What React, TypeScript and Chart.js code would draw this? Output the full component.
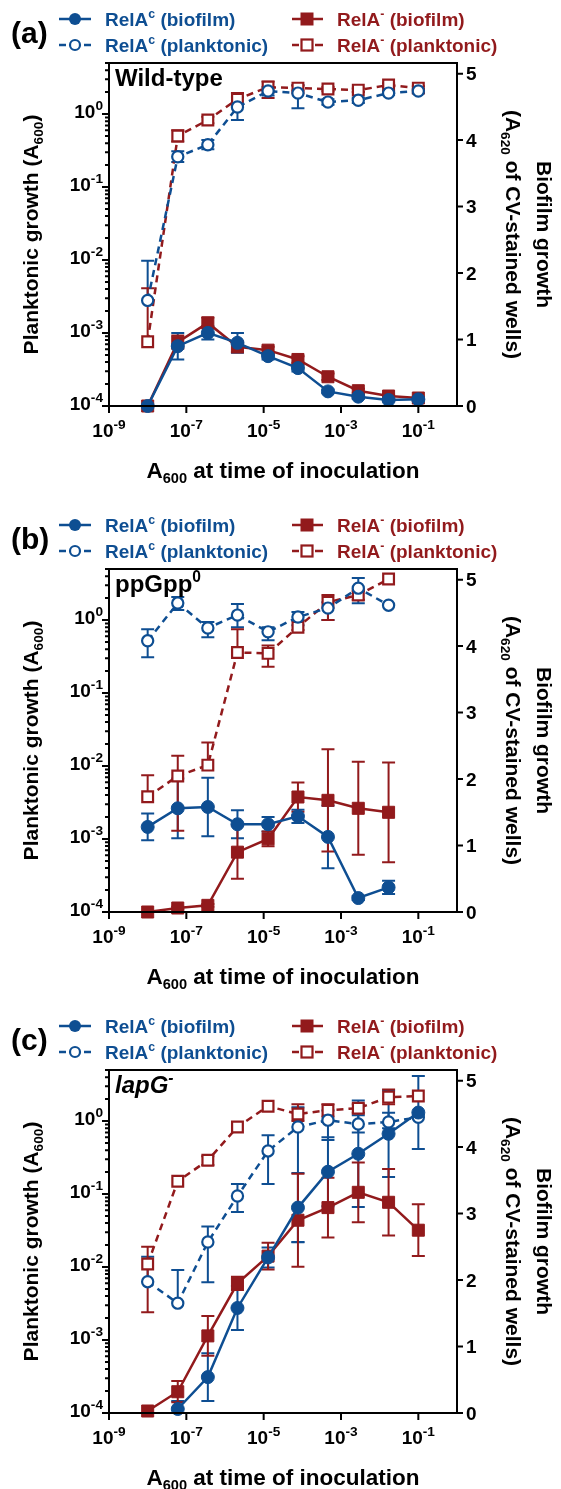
import React, { useEffect, useRef } from 'react';
import { Chart, registerables } from 'chart.js';

Chart.register(...registerables);

const BLUE = '#0E4E92';
const RED = '#921A1C';
const FAMILY = '"Liberation Sans", Arimo, Arial, sans-serif';

// ---------- data ----------
// A600 at time of inoculation (6-fold dilution series)
const inoc10 = [1.0e-8, 6.0e-8, 3.6e-7, 2.1e-6, 1.3e-5, 7.7e-5, 4.6e-4, 2.8e-3, 1.7e-2, 1.0e-1];
const inoc9 = [1.0e-8, 6.0e-8, 3.6e-7, 2.1e-6, 1.3e-5, 7.7e-5, 4.6e-4, 2.8e-3, 1.7e-2];

const xTickExps = [-9, -7, -5, -3, -1];
const yLeftExps = [-4, -3, -2, -1, 0];
const yRightTicks = [0, 1, 2, 3, 4, 5];

// (a) Wild-type
const aBioBlue = [0.0, 0.9, 1.1, 0.95, 0.75, 0.57, 0.22, 0.14, 0.09, 0.1];
const aBioBlueSD = [0, 0.2, 0.1, 0.15, 0.05, 0.05, 0.03, 0.03, 0.02, 0.02];
const aBioRed = [0.0, 0.96, 1.25, 0.89, 0.84, 0.7, 0.44, 0.23, 0.15, 0.12];
const aBioRedSD = [0, 0.1, 0.08, 0.08, 0.05, 0.05, 0.05, 0.03, 0.02, 0.02];
const aPlkBlue = [2.8e-3, 0.26, 0.38, 1.25, 2.07, 1.94, 1.46, 1.55, 1.94, 2.07];
const aPlkBlueHi = [9.8e-3, 0.31, 0.44, 1.7, 2.35, 2.5, 1.6, 1.68, 2.05, 2.2];
const aPlkBlueLo = [null, 0.22, 0.33, 0.83, 1.8, 1.2, 1.34, 1.42, 1.84, 1.95];
const aPlkRed = [7.6e-4, 0.5, 0.83, 1.6, 2.34, 2.27, 2.2, 2.13, 2.5, 2.27];
const aPlkRedHi = [4.1e-3, 0.6, 0.92, 1.95, 2.8, 2.45, 2.35, 2.25, 2.65, 2.4];
const aPlkRedLo = [null, 0.42, 0.75, 1.3, 1.66, 2.1, 2.05, 2.0, 2.35, 2.15];

// (b) ppGpp0
const bBioBlue = [1.28, 1.56, 1.58, 1.32, 1.32, 1.44, 1.13, 0.21, 0.37];
const bBioBlueSD = [0.2, 0.45, 0.44, 0.21, 0.11, 0.1, 0.47, 0.03, 0.1];
const bBioRed = [0.0, 0.06, 0.1, 0.9, 1.1, 1.73, 1.68, 1.56, 1.5];
const bBioRedSD = [0, 0.02, 0.02, 0.4, 0.11, 0.22, 0.77, 0.7, 0.75];
const bPlkBlue = [0.52, 1.71, 0.78, 1.17, 0.69, 1.1, 1.46, 2.74, 1.6];
const bPlkBlueHi = [0.75, 2.07, 0.94, 1.66, 0.8, 1.29, 1.76, 3.76, null];
const bPlkBlueLo = [0.31, 1.37, 0.58, 0.8, 0.53, 0.85, 1.0, 1.7, null];
const bPlkRed = [3.8e-3, 7.3e-3, 0.0103, 0.36, 0.35, 0.8, 1.76, 2.2, 3.65];
const bPlkRedHi = [7.5e-3, 0.0138, 0.021, 0.75, 0.45, 1.0, 2.2, 2.5, null];
const bPlkRedLo = [null, 1.3e-3, null, null, 0.23, 0.73, 1.0, 1.9, null];

// (c) lapG-
const cBioBlue = [null, 0.06, 0.54, 1.58, 2.34, 3.09, 3.63, 3.9, 4.2, 4.52];
const cBioBlueSD = [0, 0.12, 0.36, 0.33, 0.15, 0.52, 0.52, 0.8, 0.65, 0.55];
const cBioRed = [0.03, 0.32, 1.16, 1.95, 2.36, 2.9, 3.09, 3.32, 3.17, 2.75];
const cBioRedSD = [0, 0.16, 0.3, 0.1, 0.2, 0.7, 0.45, 0.45, 0.5, 0.39];
const cPlkBlue = [6.3e-3, 3.2e-3, 0.022, 0.094, 0.39, 0.83, 1.03, 0.91, 0.97, 1.13];
const cPlkBlueHi = [0.0138, 9.1e-3, 0.036, 0.137, 0.64, 1.55, 1.4, 1.2, 1.3, null];
const cPlkBlueLo = [null, null, 6.2e-3, 0.057, 0.137, 0.022, 0.55, 0.7, 0.8, null];
const cPlkRed = [0.011, 0.15, 0.29, 0.83, 1.6, 1.25, 1.41, 1.5, 2.13, 2.2];
const cPlkRedHi = [0.019, null, 0.33, null, null, 1.7, 1.7, 1.7, 2.7, null];
const cPlkRedLo = [2.4e-3, null, 0.25, null, null, 1.0, 1.15, 1.3, 1.7, null];

// ---------- layout ----------
const W = 561;
const PLOT_LEFT = 109;
const PLOT_RIGHT = 457;
const PLOT_TOP = 63;
const PLOT_BOTTOM = 406;
const Y_MAX = Math.pow(10, 0.7);
const Y1_MAX = 5.16;

type Run = { t: string; k?: 'sup' | 'sub' };

function fontOf(size: number, italic = false) {
  return `${italic ? 'italic ' : ''}bold ${size}px ${FAMILY}`;
}
function runsWidth(ctx: CanvasRenderingContext2D, runs: Run[], size: number, italic = false, ratio = 0.65) {
  let w = 0;
  for (const r of runs) {
    ctx.font = fontOf(r.k ? size * ratio : size, italic);
    w += ctx.measureText(r.t).width;
  }
  return w;
}
function drawRuns(
  ctx: CanvasRenderingContext2D,
  runs: Run[],
  x: number,
  baseline: number,
  size: number,
  color: string,
  align: 'left' | 'center' | 'right',
  italic = false,
  ratio = 0.65
) {
  const w = runsWidth(ctx, runs, size, italic, ratio);
  let cx = align === 'left' ? x : align === 'center' ? x - w / 2 : x - w;
  ctx.fillStyle = color;
  ctx.textAlign = 'left';
  ctx.textBaseline = 'alphabetic';
  for (const r of runs) {
    const s = r.k ? size * ratio : size;
    ctx.font = fontOf(s, italic);
    const dy = r.k === 'sup' ? -size * 0.42 : r.k === 'sub' ? size * 0.24 : 0;
    ctx.fillText(r.t, cx, baseline + dy);
    cx += ctx.measureText(r.t).width;
  }
}

function buildLinear(xs: number[], ys: (number | null)[], sd: number[]) {
  return {
    data: xs.map((x, i) => ({ x, y: ys[i] })),
    lo: ys.map((v, i) => (v == null || !sd[i] ? null : Math.max(0, v - sd[i]))),
    hi: ys.map((v, i) => (v == null || !sd[i] ? null : v + sd[i])),
  };
}
function buildLog(xs: number[], ys: number[], lo: (number | null)[], hi: (number | null)[]) {
  return { data: xs.map((x, i) => ({ x, y: ys[i] })), lo, hi };
}

function dataset(
  label: string,
  built: { data: any[]; lo: any[]; hi: any[] },
  axis: string,
  color: string,
  filled: boolean,
  shape: 'circle' | 'rect'
) {
  const dashed = !filled;
  return {
    label,
    data: built.data,
    errLo: built.lo,
    errHi: built.hi,
    yAxisID: axis,
    borderColor: color,
    backgroundColor: color,
    borderWidth: 2.5,
    borderDash: dashed ? [7, 5] : [],
    pointStyle: shape,
    pointRadius: shape === 'rect' ? (filled ? 8.5 : 7.6) : filled ? 6.5 : 5.6,
    pointBackgroundColor: filled ? color : '#ffffff',
    pointBorderColor: color,
    pointBorderWidth: filled ? 1 : 2.2,
    tension: 0,
    clip: false,
    spanGaps: false,
  };
}

type PanelCfg = {
  label: string;
  tag: Run[];
  italicTag: boolean;
  top: number;
  height: number;
  datasets: any[];
};

const PANELS: PanelCfg[] = [
  {
    label: '(a)',
    tag: [{ t: 'Wild-type' }],
    italicTag: false,
    top: 0,
    height: 506,
    datasets: [
      dataset('RelAc (biofilm)', buildLinear(inoc10, aBioBlue, aBioBlueSD), 'y1', BLUE, true, 'circle'),
      dataset('RelAc (planktonic)', buildLog(inoc10, aPlkBlue, aPlkBlueLo, aPlkBlueHi), 'y', BLUE, false, 'circle'),
      dataset('RelA- (biofilm)', buildLinear(inoc10, aBioRed, aBioRedSD), 'y1', RED, true, 'rect'),
      dataset('RelA- (planktonic)', buildLog(inoc10, aPlkRed, aPlkRedLo, aPlkRedHi), 'y', RED, false, 'rect'),
    ],
  },
  {
    label: '(b)',
    tag: [{ t: 'ppGpp' }, { t: '0', k: 'sup' }],
    italicTag: false,
    top: 506,
    height: 506,
    datasets: [
      dataset('RelAc (biofilm)', buildLinear(inoc9, bBioBlue, bBioBlueSD), 'y1', BLUE, true, 'circle'),
      dataset('RelAc (planktonic)', buildLog(inoc9, bPlkBlue, bPlkBlueLo, bPlkBlueHi), 'y', BLUE, false, 'circle'),
      dataset('RelA- (biofilm)', buildLinear(inoc9, bBioRed, bBioRedSD), 'y1', RED, true, 'rect'),
      dataset('RelA- (planktonic)', buildLog(inoc9, bPlkRed, bPlkRedLo, bPlkRedHi), 'y', RED, false, 'rect'),
    ],
  },
  {
    label: '(c)',
    tag: [{ t: 'lapG' }, { t: '-', k: 'sup' }],
    italicTag: true,
    top: 1007,
    height: 482,
    datasets: [
      dataset('RelAc (biofilm)', buildLinear(inoc10, cBioBlue, cBioBlueSD), 'y1', BLUE, true, 'circle'),
      dataset('RelAc (planktonic)', buildLog(inoc10, cPlkBlue, cPlkBlueLo, cPlkBlueHi), 'y', BLUE, false, 'circle'),
      dataset('RelA- (biofilm)', buildLinear(inoc10, cBioRed, cBioRedSD), 'y1', RED, true, 'rect'),
      dataset('RelA- (planktonic)', buildLog(inoc10, cPlkRed, cPlkRedLo, cPlkRedHi), 'y', RED, false, 'rect'),
    ],
  },
];

const errorBarsPlugin = {
  id: 'errorBars',
  beforeDatasetsDraw(chart: any) {
    const ctx: CanvasRenderingContext2D = chart.ctx;
    chart.data.datasets.forEach((ds: any, di: number) => {
      const meta = chart.getDatasetMeta(di);
      const xs = meta.xScale;
      const ys = meta.yScale;
      ctx.save();
      ctx.strokeStyle = ds.borderColor;
      ctx.lineWidth = 2;
      ctx.setLineDash([]);
      ds.data.forEach((p: any, i: number) => {
        if (p.y == null) return;
        const px = xs.getPixelForValue(p.x);
        const py = ys.getPixelForValue(p.y);
        const hi = ds.errHi[i];
        const lo = ds.errLo[i];
        const cap = 6.5;
        ctx.beginPath();
        if (hi != null) {
          const ph = ys.getPixelForValue(hi);
          ctx.moveTo(px, py);
          ctx.lineTo(px, ph);
          ctx.moveTo(px - cap, ph);
          ctx.lineTo(px + cap, ph);
        }
        if (lo != null) {
          const pl = ys.getPixelForValue(lo);
          ctx.moveTo(px, py);
          ctx.lineTo(px, pl);
          ctx.moveTo(px - cap, pl);
          ctx.lineTo(px + cap, pl);
        }
        ctx.stroke();
      });
      ctx.restore();
    });
  },
};

function makeDecorPlugin(cfg: PanelCfg) {
  return {
    id: 'decor',
    afterDraw(chart: any) {
      const ctx: CanvasRenderingContext2D = chart.ctx;
      const ca = chart.chartArea;
      const sx = chart.scales.x;
      const sy = chart.scales.y;
      const sy1 = chart.scales.y1;
      ctx.save();
      // frame
      ctx.strokeStyle = '#000';
      ctx.lineWidth = 2;
      ctx.setLineDash([]);
      ctx.strokeRect(ca.left, ca.top, ca.right - ca.left, ca.bottom - ca.top);

      // left log ticks
      ctx.beginPath();
      for (const e of yLeftExps) {
        for (let m = 1; m <= 9; m++) {
          const v = m * Math.pow(10, e);
          if (v > Y_MAX * 1.0001) continue;
          const py = sy.getPixelForValue(v);
          const len = m === 1 ? 7 : 4;
          ctx.moveTo(ca.left, py);
          ctx.lineTo(ca.left - len, py);
        }
      }
      // right ticks
      for (const t of yRightTicks) {
        const py = sy1.getPixelForValue(t);
        ctx.moveTo(ca.right, py);
        ctx.lineTo(ca.right + 6, py);
      }
      // x ticks
      for (const e of xTickExps) {
        const px = sx.getPixelForValue(Math.pow(10, e));
        ctx.moveTo(px, ca.bottom);
        ctx.lineTo(px, ca.bottom + 7);
      }
      ctx.stroke();

      // tick labels
      const TK = 19;
      for (const e of yLeftExps) {
        const py = sy.getPixelForValue(Math.pow(10, e));
        drawRuns(ctx, [{ t: '10' }, { t: String(e), k: 'sup' }], ca.left - 6, py + 4, TK, '#000', 'right', false, 0.72);
      }
      for (const t of yRightTicks) {
        const py = sy1.getPixelForValue(t);
        drawRuns(ctx, [{ t: String(t) }], ca.right + 9, py + 6.8, TK, '#000', 'left');
      }
      for (const e of xTickExps) {
        const px = sx.getPixelForValue(Math.pow(10, e));
        drawRuns(ctx, [{ t: '10' }, { t: String(e), k: 'sup' }], px, ca.bottom + 31, TK, '#000', 'center', false, 0.72);
      }

      // axis titles
      const cy = (ca.top + ca.bottom) / 2;
      const TS = 21;
      drawRuns(
        ctx,
        [{ t: 'A' }, { t: '600', k: 'sub' }, { t: ' at time of inoculation' }],
        (ca.left + ca.right) / 2,
        ca.bottom + 72,
        22.5,
        '#000',
        'center'
      );
      ctx.save();
      ctx.translate(30, cy);
      ctx.rotate(-Math.PI / 2);
      drawRuns(ctx, [{ t: 'Planktonic growth (A' }, { t: '600', k: 'sub' }, { t: ')' }], 0, TS * 0.36, TS, '#000', 'center');
      ctx.restore();
      ctx.save();
      ctx.translate(545, cy);
      ctx.rotate(Math.PI / 2);
      drawRuns(ctx, [{ t: 'Biofilm growth' }], 0, TS * 0.36, TS, '#000', 'center');
      ctx.restore();
      ctx.save();
      ctx.translate(514, cy);
      ctx.rotate(Math.PI / 2);
      drawRuns(
        ctx,
        [{ t: '(A' }, { t: '620', k: 'sub' }, { t: ' of CV-stained wells)' }],
        0,
        TS * 0.36,
        TS,
        '#000',
        'center'
      );
      ctx.restore();

      // inner tag
      drawRuns(ctx, cfg.tag, ca.left + 6, ca.top + 23, 24, '#000', 'left', cfg.italicTag);

      // panel label
      drawRuns(ctx, [{ t: cfg.label }], 11, 43, 30, '#000', 'left');

      // legend
      const r1 = 19;
      const r2 = 45;
      const LS = 19;
      const drawLine = (x0: number, x1: number, y: number, color: string) => {
        ctx.strokeStyle = color;
        ctx.lineWidth = 2.5;
        ctx.beginPath();
        ctx.moveTo(x0, y);
        ctx.lineTo(x1, y);
        ctx.stroke();
      };
      // blue biofilm
      drawLine(59, 91, r1, BLUE);
      ctx.fillStyle = BLUE;
      ctx.beginPath();
      ctx.arc(75, r1, 6, 0, Math.PI * 2);
      ctx.fill();
      // blue planktonic
      drawLine(59, 66, r2, BLUE);
      drawLine(84, 91, r2, BLUE);
      ctx.fillStyle = '#fff';
      ctx.strokeStyle = BLUE;
      ctx.lineWidth = 2.2;
      ctx.beginPath();
      ctx.arc(75, r2, 5, 0, Math.PI * 2);
      ctx.fill();
      ctx.stroke();
      // red biofilm
      drawLine(292, 323, r1, RED);
      ctx.fillStyle = RED;
      ctx.fillRect(307 - 6.5, r1 - 6.5, 13, 13);
      // red planktonic
      drawLine(292, 299, r2, RED);
      drawLine(315, 323, r2, RED);
      ctx.fillStyle = '#fff';
      ctx.strokeStyle = RED;
      ctx.lineWidth = 2.2;
      ctx.fillRect(307 - 5.5, r2 - 5.5, 11, 11);
      ctx.strokeRect(307 - 5.5, r2 - 5.5, 11, 11);

      const bl = LS * 0.36;
      drawRuns(ctx, [{ t: 'RelA' }, { t: 'c', k: 'sup' }, { t: ' (biofilm)' }], 105, r1 + bl, LS, BLUE, 'left');
      drawRuns(ctx, [{ t: 'RelA' }, { t: 'c', k: 'sup' }, { t: ' (planktonic)' }], 105, r2 + bl, LS, BLUE, 'left');
      drawRuns(ctx, [{ t: 'RelA' }, { t: '-', k: 'sup' }, { t: ' (biofilm)' }], 337, r1 + bl, LS, RED, 'left');
      drawRuns(ctx, [{ t: 'RelA' }, { t: '-', k: 'sup' }, { t: ' (planktonic)' }], 337, r2 + bl, LS, RED, 'left');

      ctx.restore();
    },
  };
}

function Panel({ cfg }: { cfg: PanelCfg }) {
  const ref = useRef<HTMLCanvasElement>(null);
  useEffect(() => {
    const canvas = ref.current;
    if (!canvas) return;
    const chart = new Chart(canvas, {
      type: 'line',
      data: { datasets: cfg.datasets as any },
      options: {
        animation: false,
        responsive: false,
        devicePixelRatio: 1,
        events: [],
        layout: {
          autoPadding: false,
          padding: {
            left: PLOT_LEFT,
            right: W - PLOT_RIGHT,
            top: PLOT_TOP,
            bottom: cfg.height - PLOT_BOTTOM,
          },
        },
        plugins: { legend: { display: false }, tooltip: { enabled: false } },
        scales: {
          x: { type: 'logarithmic', min: 1e-9, max: 1, display: false },
          y: { type: 'logarithmic', min: 1e-4, max: Y_MAX, display: false },
          y1: { type: 'linear', min: 0, max: Y1_MAX, display: false, position: 'right' },
        },
      } as any,
      plugins: [errorBarsPlugin, makeDecorPlugin(cfg)],
    });
    return () => chart.destroy();
  }, [cfg]);
  return (
    <canvas
      ref={ref}
      width={W}
      height={cfg.height}
      style={{ position: 'absolute', left: 0, top: cfg.top, width: W, height: cfg.height }}
    />
  );
}

export default function App() {
  return (
    <div style={{ position: 'absolute', left: 0, top: 0, width: W, height: 1489, background: '#fff', overflow: 'hidden' }}>
      {PANELS.map((p) => (
        <Panel key={p.label} cfg={p} />
      ))}
    </div>
  );
}
